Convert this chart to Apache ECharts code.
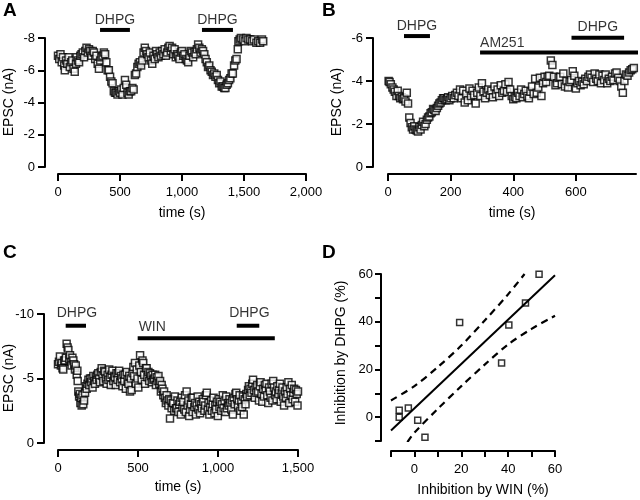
<!DOCTYPE html>
<html><head><meta charset="utf-8">
<script src="https://cdn.jsdelivr.net/npm/echarts@6/dist/echarts.min.js"></script>
<style>html,body{margin:0;padding:0;background:#fff}#c{width:640px;height:500px}</style>
</head><body><div id="c"></div><script>
// ---- Panel A: time (s), EPSC (nA)
const aPoints = [[0,-6.9],[10,-6.7],[20,-7.0],[30,-6.5],[40,-6.8],[50,-6.3],[55,-6.0],[65,-6.6],[75,-6.4],[85,-6.8],[95,-6.2],[105,-6.5],[115,-6.6],[125,-6.1],[135,-5.9],[145,-6.4],[150,-6.8],[160,-6.6],[170,-6.5],[180,-6.9],[190,-7.0],[200,-7.1],[210,-6.8],[220,-7.2],[230,-7.4],[240,-7.1],[250,-7.3],[260,-7.2],[270,-6.9],[280,-7.2],[290,-7.1],[300,-6.7],[310,-6.9],[320,-6.4],[330,-6.1],[340,-6.6],[350,-6.8],[360,-6.9],[370,-7.1],[380,-7.0],[390,-6.5],[400,-6.0],[410,-6.0],[420,-5.6],[430,-5.3],[440,-5.2],[450,-4.7],[460,-4.6],[470,-4.6],[480,-4.5],[490,-4.7],[500,-4.6],[510,-4.8],[520,-4.5],[530,-4.9],[540,-5.4],[550,-5.1],[560,-4.6],[570,-4.5],[580,-4.7],[590,-4.7],[600,-4.9],[610,-4.8],[620,-5.7],[630,-5.8],[640,-6.2],[650,-6.4],[660,-6.5],[670,-6.3],[680,-6.6],[690,-7.1],[700,-7.4],[710,-7.2],[720,-7.0],[730,-6.8],[740,-7.1],[750,-6.6],[760,-6.4],[770,-6.9],[780,-6.7],[790,-7.2],[800,-7.0],[810,-6.8],[820,-7.1],[830,-6.9],[840,-7.2],[850,-7.0],[860,-7.3],[870,-6.9],[880,-7.1],[890,-7.4],[900,-7.5],[910,-7.2],[920,-7.4],[930,-7.0],[940,-7.3],[950,-6.8],[960,-7.0],[970,-6.9],[980,-6.7],[990,-7.1],[1000,-7.2],[1010,-6.9],[1020,-7.0],[1030,-6.7],[1040,-6.6],[1050,-6.5],[1060,-6.9],[1070,-7.2],[1080,-7.1],[1090,-6.8],[1100,-7.1],[1110,-7.0],[1120,-7.3],[1130,-7.6],[1140,-7.4],[1150,-7.1],[1160,-7.3],[1170,-7.2],[1180,-7.0],[1190,-6.7],[1200,-6.5],[1210,-6.2],[1220,-6.3],[1230,-6.0],[1240,-5.9],[1250,-5.7],[1260,-5.8],[1270,-5.6],[1280,-5.7],[1290,-5.4],[1300,-5.2],[1310,-5.3],[1320,-5.0],[1330,-5.0],[1340,-4.9],[1350,-4.9],[1360,-5.1],[1370,-5.2],[1380,-5.4],[1390,-5.5],[1400,-5.8],[1410,-5.8],[1420,-6.3],[1430,-6.6],[1440,-6.7],[1450,-7.3],[1455,-7.8],[1465,-7.9],[1475,-8.0],[1490,-7.9],[1505,-7.8],[1520,-8.0],[1535,-7.9],[1550,-7.9],[1565,-7.8],[1580,-7.9],[1600,-7.7],[1615,-7.8],[1630,-7.7],[1645,-7.9],[1655,-7.8]];
const aBars = [{label:'DHPG', from:339, to:580, y:-8.5, textY:-9.12}, {label:'DHPG', from:1161, to:1411, y:-8.5, textY:-9.12}];

// ---- Panel B
const bPoints = [[2,-4.0],[5,-3.95],[9,-3.85],[14,-3.7],[18,-3.6],[22,-3.5],[27,-3.3],[31,-3.55],[35,-3.3],[39,-3.2],[44,-3.25],[48,-3.15],[52,-3.2],[56,-3.05],[60,-3.45],[64,-2.95],[68,-2.3],[72,-2.05],[76,-1.85],[80,-1.75],[84,-1.9],[88,-1.75],[92,-1.7],[96,-1.65],[100,-1.85],[104,-1.75],[108,-1.95],[112,-2.1],[116,-1.9],[120,-2.0],[124,-2.2],[128,-2.3],[132,-2.35],[136,-2.5],[140,-2.55],[144,-2.7],[148,-2.65],[152,-2.6],[156,-2.75],[160,-2.85],[164,-2.95],[168,-3.0],[172,-3.1],[176,-3.2],[180,-3.2],[184,-3.1],[188,-3.15],[192,-3.25],[196,-3.1],[200,-3.2],[205,-3.3],[210,-3.2],[215,-3.35],[220,-3.45],[225,-3.3],[230,-3.6],[235,-3.2],[240,-3.55],[245,-3.0],[250,-3.4],[255,-3.1],[260,-3.65],[265,-3.3],[270,-3.55],[275,-3.35],[280,-2.95],[285,-3.45],[290,-3.7],[295,-3.3],[300,-3.9],[305,-3.5],[310,-3.2],[315,-3.45],[320,-3.6],[325,-3.35],[330,-3.55],[335,-3.25],[340,-3.75],[345,-3.4],[350,-3.6],[355,-3.3],[360,-3.8],[365,-3.45],[370,-3.55],[375,-3.85],[380,-3.5],[385,-3.95],[390,-3.6],[395,-3.3],[400,-3.15],[405,-3.25],[410,-3.2],[415,-3.45],[420,-3.3],[425,-3.6],[430,-3.25],[435,-3.4],[440,-3.55],[445,-3.3],[450,-3.2],[455,-3.5],[460,-3.75],[465,-3.4],[470,-4.1],[475,-3.45],[480,-3.7],[485,-4.15],[490,-3.3],[495,-3.9],[500,-4.2],[505,-3.95],[510,-4.2],[515,-4.25],[520,-4.95],[525,-4.75],[530,-4.2],[535,-3.8],[540,-3.9],[545,-4.15],[550,-4.2],[555,-3.85],[560,-4.35],[565,-3.75],[570,-4.0],[575,-3.7],[580,-3.95],[585,-4.05],[590,-4.45],[595,-4.25],[600,-3.65],[605,-3.9],[610,-4.0],[615,-3.8],[620,-3.95],[625,-3.85],[630,-4.1],[635,-4.0],[640,-4.2],[645,-4.3],[650,-4.15],[655,-3.95],[660,-4.35],[665,-4.1],[670,-4.0],[675,-4.3],[680,-3.9],[685,-4.25],[690,-4.05],[695,-4.3],[700,-3.9],[705,-4.1],[710,-4.0],[715,-4.2],[720,-4.05],[725,-4.35],[730,-4.4],[735,-4.15],[740,-4.0],[745,-3.75],[750,-3.45],[755,-4.0],[760,-4.3],[765,-4.25],[770,-4.4],[775,-4.5],[780,-4.55],[785,-4.6]];
const bBars = [{label:'DHPG', from:51, to:134, y:-6.09, textY:-6.53, align:'center'}, {label:'AM251', from:294, to:805, y:-5.32, textY:-5.75, align:'left'}, {label:'DHPG', from:586, to:754, y:-6.01, textY:-6.5, align:'center'}];

// ---- Panel C
const cPoints = [[0,-6.1],[6,-6.3],[12,-6.7],[18,-6.0],[23,-6.2],[28,-5.8],[33,-5.7],[38,-6.4],[44,-6.4],[49,-6.6],[54,-7.7],[60,-7.4],[65,-7.2],[70,-6.5],[75,-6.8],[80,-6.3],[85,-6.0],[90,-6.6],[96,-6.4],[101,-6.1],[106,-5.7],[111,-6.0],[117,-5.3],[121,-5.6],[123,-4.8],[127,-4.0],[132,-3.6],[136,-3.8],[140,-3.1],[144,-3.5],[148,-2.9],[153,-3.7],[158,-3.0],[163,-3.3],[169,-3.9],[174,-4.4],[179,-4.2],[184,-4.6],[190,-4.9],[195,-4.5],[200,-5.0],[205,-4.7],[210,-5.0],[216,-4.3],[221,-5.2],[226,-4.8],[231,-4.6],[236,-5.1],[241,-4.9],[246,-5.3],[252,-5.4],[257,-5.0],[262,-4.7],[267,-5.5],[273,-5.8],[278,-5.2],[283,-4.8],[288,-5.6],[294,-5.5],[299,-5.0],[304,-4.6],[310,-5.3],[315,-4.9],[320,-5.7],[325,-5.1],[330,-4.5],[335,-5.3],[340,-5.6],[346,-4.8],[351,-5.2],[356,-5.1],[361,-4.5],[366,-5.4],[372,-4.9],[377,-5.4],[382,-5.6],[388,-4.7],[393,-5.2],[398,-5.0],[403,-4.4],[409,-5.3],[414,-4.8],[419,-5.3],[424,-4.2],[430,-5.5],[435,-4.9],[440,-4.6],[445,-5.2],[450,-4.0],[455,-5.0],[460,-4.1],[466,-5.4],[471,-5.9],[476,-5.2],[481,-6.2],[487,-4.6],[492,-5.7],[497,-5.0],[502,-4.3],[508,-6.0],[513,-6.8],[518,-5.5],[523,-4.9],[528,-6.4],[533,-6.2],[538,-5.3],[544,-4.6],[549,-5.8],[554,-5.8],[559,-5.1],[565,-5.5],[570,-4.8],[575,-5.4],[580,-5.2],[586,-4.7],[591,-5.3],[596,-4.9],[601,-5.0],[607,-5.3],[612,-4.5],[617,-5.1],[622,-4.8],[628,-5.2],[633,-4.6],[638,-4.8],[643,-4.0],[648,-4.5],[653,-4.2],[658,-3.7],[663,-4.0],[668,-3.5],[674,-3.1],[679,-3.7],[684,-3.3],[690,-2.9],[695,-3.4],[700,-1.9],[705,-3.3],[710,-2.7],[716,-3.1],[721,-3.1],[726,-2.5],[731,-3.6],[737,-2.7],[742,-2.7],[747,-3.3],[752,-2.4],[757,-3.0],[763,-3.2],[768,-2.2],[773,-3.5],[778,-2.8],[783,-3.2],[789,-2.6],[794,-3.7],[799,-2.4],[804,-4.0],[810,-2.9],[815,-3.3],[820,-2.1],[825,-2.6],[831,-3.0],[836,-3.5],[841,-2.4],[846,-3.5],[852,-2.8],[857,-3.1],[862,-2.2],[867,-2.9],[873,-3.6],[878,-2.6],[883,-3.2],[888,-2.3],[894,-3.0],[899,-2.7],[904,-3.4],[909,-3.2],[915,-2.5],[920,-2.9],[925,-3.7],[930,-3.9],[936,-2.6],[941,-3.1],[946,-2.2],[951,-2.8],[957,-3.3],[962,-2.5],[967,-3.0],[972,-3.5],[978,-2.3],[983,-2.9],[988,-2.6],[993,-3.2],[999,-2.1],[1004,-3.4],[1009,-2.8],[1014,-3.2],[1020,-2.5],[1025,-3.0],[1030,-3.7],[1035,-2.7],[1041,-3.3],[1046,-2.4],[1051,-3.6],[1056,-2.7],[1062,-3.1],[1067,-2.9],[1072,-3.4],[1077,-3.1],[1083,-2.6],[1088,-3.3],[1093,-2.2],[1098,-3.5],[1104,-3.0],[1109,-3.8],[1114,-3.9],[1119,-3.4],[1125,-2.9],[1130,-3.3],[1135,-3.7],[1140,-2.5],[1146,-3.2],[1151,-2.8],[1156,-3.6],[1161,-2.2],[1167,-3.4],[1172,-3.0],[1177,-3.8],[1182,-3.6],[1188,-4.1],[1193,-4.4],[1198,-3.7],[1203,-4.2],[1209,-3.9],[1214,-4.6],[1219,-4.9],[1224,-4.1],[1230,-3.5],[1235,-4.3],[1240,-3.9],[1245,-4.5],[1251,-4.0],[1256,-3.3],[1261,-4.4],[1266,-4.7],[1272,-3.8],[1277,-3.2],[1282,-4.2],[1287,-3.6],[1293,-4.5],[1298,-4.1],[1303,-4.6],[1308,-3.7],[1314,-3.1],[1319,-4.3],[1324,-4.0],[1329,-3.5],[1335,-4.6],[1340,-3.3],[1345,-4.8],[1350,-4.3],[1356,-3.7],[1361,-4.0],[1366,-3.4],[1371,-4.4],[1377,-3.8],[1382,-4.1],[1387,-4.6],[1392,-3.2],[1398,-3.9],[1403,-4.3],[1408,-3.6],[1413,-2.9],[1419,-4.0],[1424,-3.5],[1429,-4.3],[1434,-3.8],[1440,-4.7],[1445,-3.1],[1450,-4.2],[1455,-3.7],[1461,-4.5],[1466,-3.4],[1471,-3.9],[1476,-4.2],[1482,-3.2],[1487,-4.1],[1492,-3.8],[1497,-2.9],[1500,-4.0]];
const cBars = [{label:'DHPG', from:48, to:175, y:-9.09, textY:-10.05, textX:118, align:'center'}, {label:'WIN', from:498, to:1355, y:-8.12, textY:-9.02, textX:504, align:'left'}, {label:'DHPG', from:1117, to:1258, y:-9.09, textY:-10.05, textX:1196, align:'center'}];

// ---- Panel D: inhibition by WIN (%) vs inhibition by DHPG (%)
const dPoints = [[-6.5,2.9],[-6.5,0],[-2.6,3.8],[1.4,-1.3],[4.5,-8.4],[19.3,39.7],[37.2,22.7],[40.3,38.6],[47.4,47.8],[53.2,59.9]];
const dFit = [[-10,-5.6],[60,59.5]];
const dUpper = [[-10,7],[0,13],[10,21],[20,30],[30,40.5],[40,51.5],[47,60]];
const dLower = [[-3,-10.5],[0,-6.5],[10,3.5],[20,13],[30,22],[40,30.5],[50,37],[60,42.5]];
const bTicks = [0, 200, 400, 600];
const dLabelTicks = [0, 20, 40, 60];

const FONT = '"Liberation Sans", Arial, Helvetica, sans-serif';
function mkLine(){ return {show:true, onZero:false, lineStyle:{color:'#000', width:2}}; }
function mkTick(len, custom){ const t = {show:true, length:len||7, lineStyle:{color:'#000', width:2}}; if (custom) t.customValues = custom; return t; }
function mkLabel(margin, custom){
  const l = {fontFamily:FONT, fontSize:13, color:'#000', margin:margin};
  if (custom) l.customValues = custom;
  return l;
}
function ax(gi, o){
  return Object.assign({type:'value', gridIndex:gi, axisLine:mkLine(), axisTick:mkTick(7), splitLine:{show:false}}, o);
}
function sq(gi, data, size){
  return {type:'scatter', xAxisIndex:gi, yAxisIndex:gi, data:data, symbol:'rect', symbolSize:size||7,
    itemStyle:{color:'#fff', borderColor:'#000', borderWidth:1.5}};
}
function barSeries(gi, bars){
  const out = [];
  bars.forEach(b => {
    out.push({type:'line', xAxisIndex:gi, yAxisIndex:gi, data:[[b.from,b.y],[b.to,b.y]],
      symbol:'none', clip:false, lineStyle:{color:'#000', width:4}, silent:true});
    const tx = b.textX !== undefined ? b.textX : (b.align === 'left' ? b.from : (b.from+b.to)/2);
    out.push({type:'scatter', xAxisIndex:gi, yAxisIndex:gi, data:[[tx, b.textY, b.label]],
      symbolSize:0, clip:false, silent:true,
      label:{show:true, position:'inside', align:b.align||'center', verticalAlign:'middle',
        formatter:p=>p.value[2], fontFamily:FONT, fontSize:14, color:'#000'}});
  });
  return out;
}
function txt(x, y, s, extra){
  return Object.assign({type:'text', x:x, y:y, style:{text:s, font:'14px '+FONT, fill:'#000', align:'center', verticalAlign:'middle'}}, extra||{});
}

const chart = echarts.init(document.getElementById('c'));
chart.setOption({
  animation:false,
  grid:[
    {left:58, top:38, width:248, height:129},
    {left:388, top:38, width:248, height:129},
    {left:58, top:314, width:240, height:129},
    {left:391, top:274, width:164, height:167}
  ],
  xAxis:[
    ax(0, {min:0, max:2000, interval:500, offset:7, axisLabel:mkLabel(12)}),
    ax(1, {min:0, max:792, offset:7, axisTick:mkTick(7, bTicks), axisLabel:mkLabel(12, bTicks)}),
    ax(2, {min:0, max:1500, interval:500, offset:7, axisLabel:mkLabel(12)}),
    ax(3, {min:-10, max:60, interval:10, offset:10, axisTick:mkTick(6), axisLabel:mkLabel(12, dLabelTicks)})
  ],
  yAxis:[
    ax(0, {min:-8, max:0, interval:2, inverse:true, offset:13, axisLabel:mkLabel(10)}),
    ax(1, {min:-6, max:0, interval:2, inverse:true, offset:15, axisLabel:mkLabel(10)}),
    ax(2, {min:-10, max:0, interval:5, inverse:true, offset:14, axisLabel:mkLabel(10)}),
    ax(3, {min:-10, max:60, interval:10, offset:10, axisTick:mkTick(6), axisLabel:mkLabel(8, dLabelTicks)})
  ],
  series:[
    sq(0, aPoints), sq(1, bPoints), sq(2, cPoints), sq(3, dPoints, 6),
    {type:'line', xAxisIndex:3, yAxisIndex:3, data:dFit, symbol:'none', lineStyle:{color:'#000', width:2}},
    {type:'line', xAxisIndex:3, yAxisIndex:3, data:dUpper, symbol:'none', smooth:0.3, lineStyle:{color:'#000', width:2.2, type:[7,5]}},
    {type:'line', xAxisIndex:3, yAxisIndex:3, data:dLower, symbol:'none', smooth:0.3, lineStyle:{color:'#000', width:2.2, type:[7,5]}}
  ].concat(barSeries(0, aBars), barSeries(1, bBars), barSeries(2, cBars)),
  graphic:[
    {type:'text', left:3, top:1, style:{text:'A', font:'bold 19px '+FONT, fill:'#000'}},
    {type:'text', left:322, top:1, style:{text:'B', font:'bold 19px '+FONT, fill:'#000'}},
    {type:'text', left:3, top:243, style:{text:'C', font:'bold 19px '+FONT, fill:'#000'}},
    {type:'text', left:322, top:243, style:{text:'D', font:'bold 19px '+FONT, fill:'#000'}},
    txt(182, 213, 'time (s)'),
    txt(512, 213, 'time (s)'),
    txt(178, 487, 'time (s)'),
    txt(483, 490, 'Inhibition by WIN (%)'),
    txt(9, 102, 'EPSC (nA)', {rotation:Math.PI/2}),
    txt(337, 102, 'EPSC (nA)', {rotation:Math.PI/2}),
    txt(9, 378, 'EPSC (nA)', {rotation:Math.PI/2}),
    txt(341, 353, 'Inhibition by DHPG (%)', {rotation:Math.PI/2})
  ]
});
</script></body></html>
